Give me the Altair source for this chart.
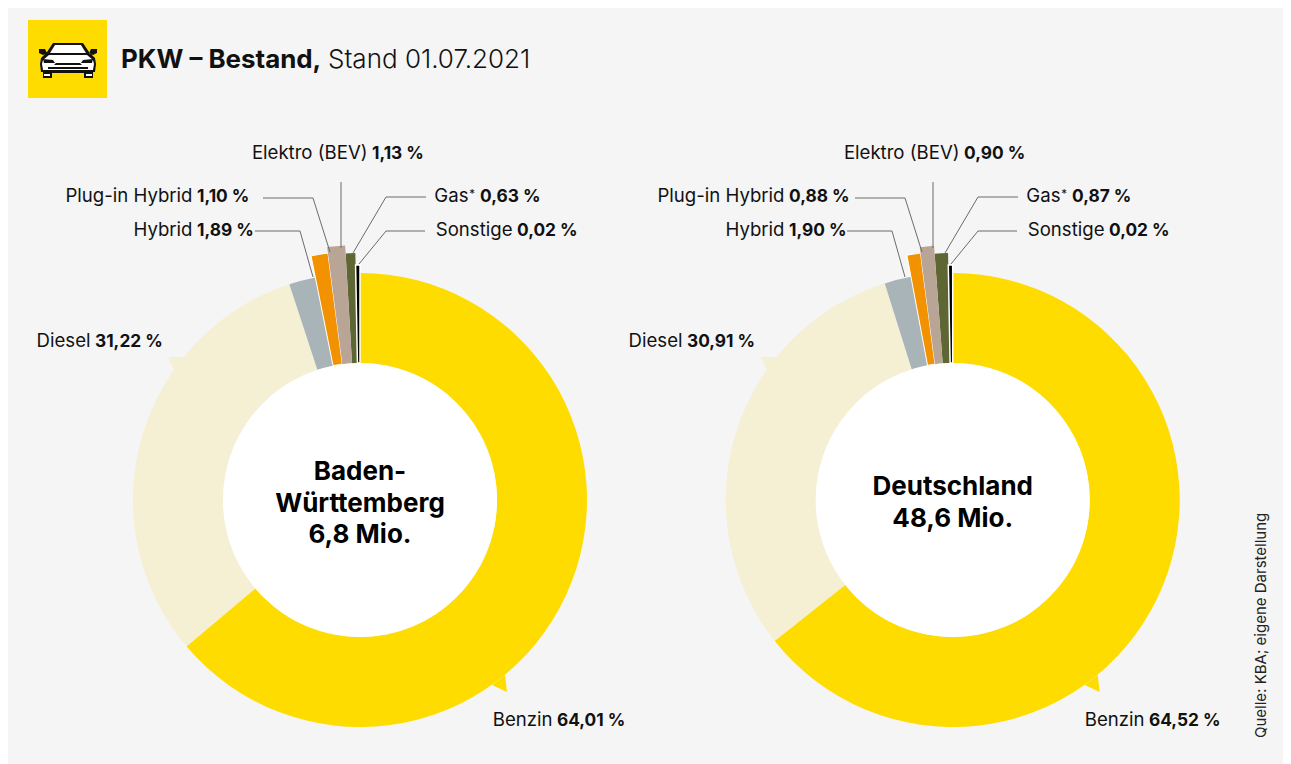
import altair as alt
import pandas as pd

# ---- data ----
CATEGORIES = ["Benzin", "Diesel", "Hybrid", "Plug-in Hybrid", "Elektro (BEV)", "Gas*", "Sonstige"]
BW_VALUES = [64.01, 31.22, 1.89, 1.10, 1.13, 0.63, 0.02]
DE_VALUES = [64.52, 30.91, 1.90, 0.88, 0.90, 0.87, 0.02]
BW_LABELS = ["64,01 %", "31,22 %", "1,89 %", "1,10 %", "1,13 %", "0,63 %", "0,02 %"]
DE_LABELS = ["64,52 %", "30,91 %", "1,90 %", "0,88 %", "0,90 %", "0,87 %", "0,02 %"]
BW_CENTER_TEXT = ["Baden-", "Württemberg", "6,8 Mio."]
DE_CENTER_TEXT = ["Deutschland", "48,6 Mio."]
TITLE_BOLD = "PKW – Bestand,"
TITLE_REGULAR = "Stand 01.07.2021"
SOURCE = "Quelle: KBA; eigene Darstellung"

# ---- styles and layout (page px minus 8) ----
W, H = 1275, 756
OFF_X, OFF_Y = 8, 8
FONT = "Inter"
FS = 18.6
FS_BOLD = 17.3
BG = "#F5F5F5"
COLORS = dict(zip(CATEGORIES, ["#FFDC00", "#F5EFD3", "#A9B4B8", "#F39200", "#B9A595", "#5E6633", "#000000"]))
OUTER = dict(zip(CATEGORIES, [227, 227, 227, 249, 255, 247, 235]))
DRAW_ORDER = ["Diesel", "Benzin", "Hybrid", "Gas*", "Sonstige", "Plug-in Hybrid", "Elektro (BEV)"]
STROKED = {"Plug-in Hybrid": 1, "Sonstige": 1.5}
INNER = 137
MIN_SWEEP = 0.3
# bold value left edge, baseline
LABEL_POS = {
    "Benzin": (557, 726),
    "Diesel": (95, 347),
    "Hybrid": (197, 236),
    "Plug-in Hybrid": (197, 202),
    "Elektro (BEV)": (372, 159),
    "Gas*": (480, 202),
    "Sonstige": (517, 236),
}
LEADERS = {
    "Hybrid": [(255, 231), (300, 231), (313, 277)],
    "Plug-in Hybrid": [(263, 198), (313, 198), (330, 252)],
    "Elektro (BEV)": [(341, 182), (341, 248)],
    "Gas*": [(426, 197), (386, 197), (353, 253)],
    "Sonstige": [(425, 231), (386, 231), (359, 264)],
}


def px(x):
    return x - OFF_X


def py(y):
    return y - OFF_Y


def text(t, x, y, **kw):
    kw.setdefault("font", FONT)
    kw.setdefault("fontSize", FS)
    kw.setdefault("color", "#111111")
    kw.setdefault("baseline", "alphabetic")
    return (
        alt.Chart(pd.DataFrame({"t": [t]}))
        .mark_text(**kw)
        .encode(text="t:N", x=alt.value(px(x)), y=alt.value(py(y)))
    )


def poly(points, scale):
    return "M" + "L".join(f"{a / scale:.4f},{b / scale:.4f}" for a, b in points) + "Z"


def symbol(paths, x, y, half, color):
    return (
        alt.Chart(pd.DataFrame({"k": [0]}))
        .mark_point(shape=paths, filled=True, color=color, opacity=1, size=(2 * half) ** 2, strokeWidth=0)
        .encode(x=alt.value(px(x)), y=alt.value(py(y)))
    )


def donut(values, labels, cx, cy, dx, center_lines, center_y, spikes):
    displayed = [max(v, MIN_SWEEP) for v in values]
    total = sum(displayed)
    starts, s = [], 0.0
    for v in displayed:
        starts.append(s / total)
        s += v
    frame = pd.DataFrame(
        {"cat": CATEGORIES, "start": starts, "end": [a + v / total for a, v in zip(starts, displayed)]}
    )
    layers = []
    for cat in DRAW_ORDER:
        kw = {"stroke": "white", "strokeWidth": STROKED[cat]} if cat in STROKED else {}
        layers.append(
            alt.Chart(frame[frame.cat == cat])
            .mark_arc(radius=OUTER[cat], radius2=INNER, color=COLORS[cat], **kw)
            .encode(
                theta=alt.Theta("start:Q", scale=alt.Scale(domain=[0, 1])),
                theta2="end:Q",
                x=alt.value(px(cx)),
                y=alt.value(py(cy)),
            )
        )
    # small outward spikes on the two big rings
    for pts, cat in spikes:
        layers.append(symbol(poly(pts, 200), cx, cy, 200, COLORS[cat]))
    # white hole
    layers.append(
        alt.Chart(pd.DataFrame({"s": [0.0], "e": [1.0]}))
        .mark_arc(radius=INNER, color="white")
        .encode(
            theta=alt.Theta("s:Q", scale=alt.Scale(domain=[0, 1])),
            theta2="e:Q",
            x=alt.value(px(cx)),
            y=alt.value(py(cy)),
        )
    )
    # leader lines
    rows = []
    for cat, pts in LEADERS.items():
        for i, (a, b) in enumerate(pts):
            rows.append({"id": cat, "i": i, "x": px(a + dx), "y": py(b)})
    layers.append(
        alt.Chart(pd.DataFrame(rows))
        .mark_line(color="#6B6B6B", strokeWidth=1)
        .encode(
            x=alt.X("x:Q", scale=None, axis=None),
            y=alt.Y("y:Q", scale=None, axis=None),
            detail="id:N",
            order="i:Q",
        )
    )
    # labels
    for cat, lab in zip(CATEGORIES, labels):
        x, y = LABEL_POS[cat]
        x += dx
        name = cat.replace("*", "")
        layers.append(text(name, x - 4.5 - (7 if cat == "Gas*" else 0), y, align="right"))
        if cat == "Gas*":
            layers.append(text("*", x - 5, y - 4, align="right", fontSize=11.5))
        layers.append(text(lab, x, y, align="left", fontWeight="bold", fontSize=FS_BOLD))
    # centre text
    for i, line in enumerate(center_lines):
        layers.append(text(line, cx, center_y + i * 31.5, align="center", fontSize=26, fontWeight="bold", color="#000000"))
    return layers


CX1, CX2, CY = 360, 952.7, 500
SPIKES = [
    ([(147, 192), (145, 175), (132, 185)], "Benzin"),
    ([(-192, -143), (-186, -130), (-175, -143)], "Diesel"),
]

layers = []
# yellow icon tile
layers.append(
    alt.Chart(pd.DataFrame({"k": [0]}))
    .mark_rect(color="#FFDC00")
    .encode(x=alt.value(px(28)), x2=alt.value(px(107)), y=alt.value(py(20)), y2=alt.value(py(98)))
)
# car icon
car_black = [
    [(-15, -16), (15, -16), (21, -7), (27, -1), (28, 5), (27, 13), (25, 13), (25, 19), (16, 19), (16, 14),
     (-16, 14), (-16, 19), (-25, 19), (-25, 13), (-27, 13), (-28, 5), (-27, -1), (-21, -7)],
    [(-29, -10), (-23, -10), (-21, -6), (-25, -4), (-29, -6)],
    [(29, -10), (23, -10), (21, -6), (25, -4), (29, -6)],
]
car_white = [
    [(-13, -14), (13, -14), (18, -6), (-18, -6)],
    [(-19, -4), (19, -4), (25, 1), (26, 5), (25, 11), (-25, 11), (-26, 5), (-25, 1)],
    [(-24, 15), (-18, 15), (-18, 17), (-24, 17)],
    [(24, 15), (18, 15), (18, 17), (24, 17)],
]
car_detail = [
    [(-25, 0), (-15, 1), (-13, 4), (-24, 4)],
    [(25, 0), (15, 1), (13, 4), (24, 4)],
    [(-12, 4), (12, 4), (14, 6), (-14, 6)],
    [(-20, 8), (20, 8), (20, 10), (-20, 10)],
]
ICON_X, ICON_Y = 68, 59
layers.append(symbol("".join(poly(p, 30) for p in car_black), ICON_X, ICON_Y, 30, "#111111"))
layers.append(symbol("".join(poly(p, 30) for p in car_white), ICON_X, ICON_Y, 30, "#FFFFFF"))
layers.append(symbol("".join(poly(p, 30) for p in car_detail), ICON_X, ICON_Y, 30, "#111111"))
# title
layers.append(text(TITLE_BOLD, 121, 68, align="left", fontSize=25.9, fontWeight="bold"))
layers.append(text(TITLE_REGULAR, 328, 68, align="left", fontSize=26, fontWeight=300))
# donuts
layers += donut(BW_VALUES, BW_LABELS, CX1, CY, 0, BW_CENTER_TEXT, 480, SPIKES)
layers += donut(DE_VALUES, DE_LABELS, CX2, CY, 592, DE_CENTER_TEXT, 495, SPIKES)
# source
layers.append(text(SOURCE, 1266, 738, align="left", angle=270, fontSize=15, color="#222222"))

chart = (
    alt.layer(*layers)
    .properties(width=W, height=H, background=BG, padding=0, autosize=alt.AutoSizeParams(type="none"))
    .configure_view(stroke=None)
)
chart.save("out.html", embed_options={"renderer": "svg", "actions": False})
